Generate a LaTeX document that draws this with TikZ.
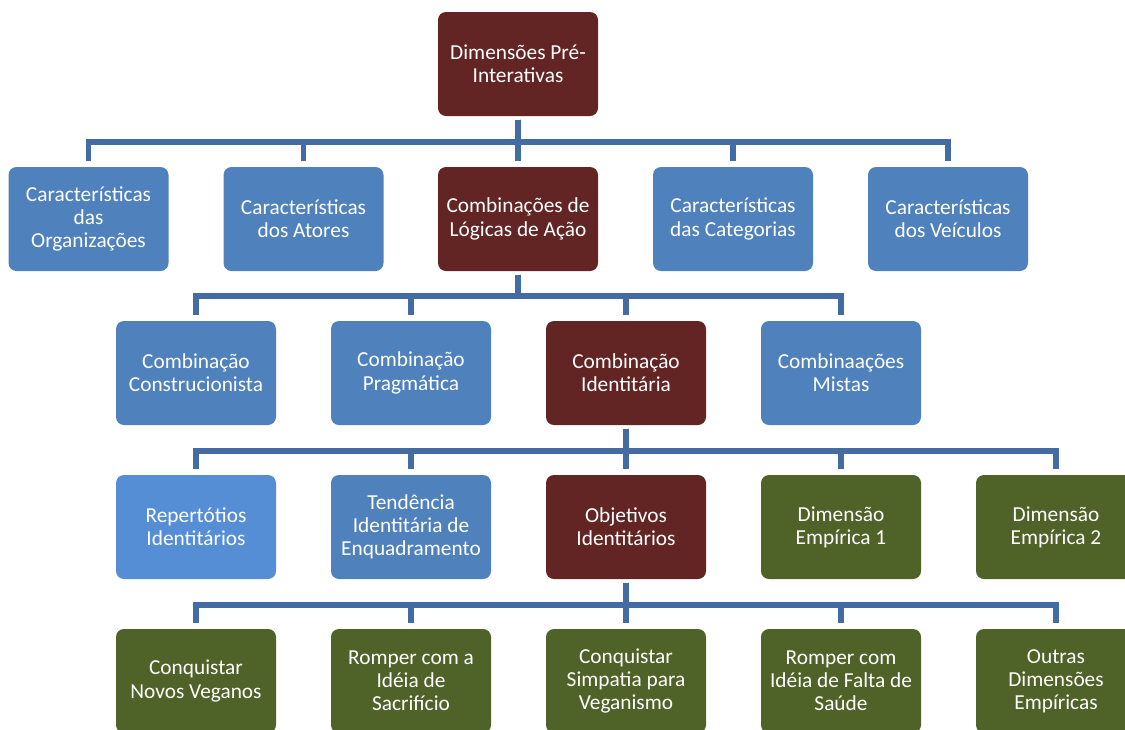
\documentclass[tikz,border=0pt]{standalone}
\usepackage{fontspec}
\setmainfont{Carlito}
\definecolor{wine}{RGB}{99,37,35}
\definecolor{boxblue}{RGB}{79,129,189}
\definecolor{lightblue}{RGB}{85,142,213}
\definecolor{olive}{RGB}{79,98,40}
\definecolor{linkblue}{RGB}{67,108,165}
\tikzset{
  card/.style={rounded corners=6pt, minimum width=120pt, minimum height=78pt,
    inner sep=0pt, text=white, align=center,
    font=\fontsize{16pt}{17.4pt}\selectfont},
  redcard/.style={card, fill=wine},
  bluecard/.style={card, fill=boxblue},
  lbluecard/.style={card, fill=lightblue},
  greencard/.style={card, fill=olive},
  link/.style={draw=linkblue, line width=4pt, line join=miter,
    shorten <=2.5pt, shorten >=4pt}
}
\begin{document}
\begin{tikzpicture}[x=0.75pt, y=-0.75pt]
\path[use as bounding box, clip] (0,0) rectangle (1125,729);

% level 0
\node[redcard] (root) at (518,64) {Dimensões Pré-\\Interativas};

% level 1
\node[bluecard] (org) at (88.5,219) {Características\\das\\Organizações};
\node[bluecard] (ato) at (303.5,219) {Características\\dos Atores};
\node[redcard]  (log) at (518,219) {Combinações de\\Lógicas de Ação};
\node[bluecard] (cat) at (733,219) {Características\\das Categorias};
\node[bluecard] (vei) at (948,219) {Características\\dos Veículos};

% level 2
\node[bluecard] (con) at (196,373) {Combinação\\Construcionista};
\node[bluecard] (pra) at (411,373) {Combinação\\Pragmática};
\node[redcard]  (ide) at (626,373) {Combinação\\Identitária};
\node[bluecard] (mis) at (841,373) {Combinaações\\Mistas};

% level 3
\node[lbluecard] (rep) at (196,527) {Repertótios\\Identitários};
\node[bluecard]  (ten) at (411,527) {Tendência\\Identitária de\\Enquadramento};
\node[redcard]   (obj) at (626,527) {Objetivos\\Identitários};
\node[greencard] (de1) at (841,527) {Dimensão\\Empírica 1};
\node[greencard] (de2) at (1056,527) {Dimensão\\Empírica 2};

% level 4
\node[greencard] (nov) at (196,681) {Conquistar\\Novos Veganos};
\node[greencard] (sac) at (411,681) {Romper com a\\Idéia de\\Sacrifício};
\node[greencard] (sim) at (626,681) {Conquistar\\Simpatia para\\Veganismo};
\node[greencard] (sau) at (841,681) {Romper com\\Idéia de Falta de\\Saúde};
\node[greencard] (out) at (1056,681) {Outras\\Dimensões\\Empíricas};

% bus heights between levels
\coordinate (b1) at (0,142);
\coordinate (b2) at (0,296);
\coordinate (b3) at (0,451);
\coordinate (b4) at (0,605);

% elbow connectors
\foreach \c in {org,ato,log,cat,vei}
  \draw[link] (root.south) |- (\c.north |- b1) -- (\c.north);
\foreach \c in {con,pra,ide,mis}
  \draw[link] (log.south) |- (\c.north |- b2) -- (\c.north);
\foreach \c in {rep,ten,obj,de1,de2}
  \draw[link] (ide.south) |- (\c.north |- b3) -- (\c.north);
\foreach \c in {nov,sac,sim,sau,out}
  \draw[link] (obj.south) |- (\c.north |- b4) -- (\c.north);
\end{tikzpicture}
\end{document}
